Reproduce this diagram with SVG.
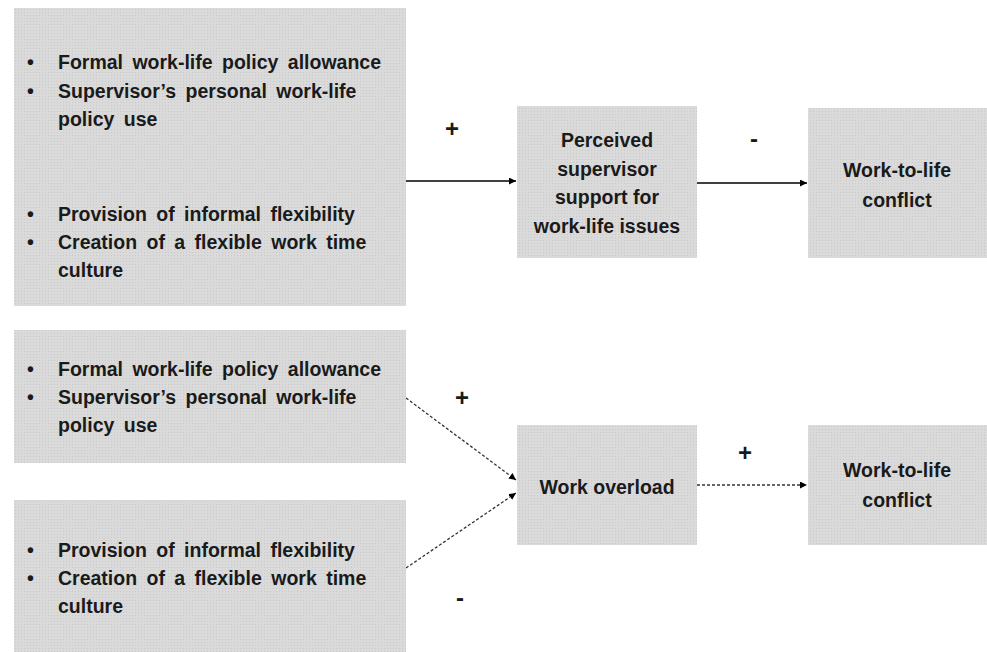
<svg xmlns="http://www.w3.org/2000/svg" width="987" height="652" viewBox="0 0 987 652">
<defs>
<pattern id="dots" width="3" height="3" patternUnits="userSpaceOnUse">
<rect width="3" height="3" fill="#dadada"/>
<rect x="0" y="0" width="1" height="1" fill="#c9c9c9"/>
</pattern>
<marker id="ah" viewBox="0 0 10 10" refX="10" refY="5" markerWidth="7" markerHeight="7" orient="auto" markerUnits="userSpaceOnUse">
<path d="M0,0 L10,5 L0,10 z" fill="#000"/>
</marker>
</defs>
<style>
.box{fill:url(#dots);}
text{font-family:"Liberation Sans",Arial,sans-serif;font-weight:bold;font-size:19.5px;fill:#1a1a1a;}
.b{word-spacing:4px;}
.c{text-anchor:middle;}
.sign{font-size:24px;}
.solid{stroke:#000;stroke-width:1.3;fill:none;marker-end:url(#ah);}
.dash{stroke:#333;stroke-width:1.3;fill:none;stroke-dasharray:3,2;marker-end:url(#ah);}
</style>
<rect width="987" height="652" fill="#fff"/>
<g id="connectors">
<line class="solid" x1="406" y1="181" x2="516" y2="181"/>
<line class="solid" x1="697" y1="183" x2="807" y2="183"/>
<line class="dash" x1="406" y1="398" x2="516" y2="480"/>
<line class="dash" x1="406" y1="568" x2="516" y2="493"/>
<line class="dash" x1="697" y1="485" x2="807" y2="485"/>
<text class="sign c" x="452" y="137">+</text>
<text class="sign c" x="754" y="147">-</text>
<text class="sign c" x="462" y="406">+</text>
<text class="sign c" x="745" y="461">+</text>
<text class="sign c" x="460" y="606">-</text>
</g>
<g id="nodeA">
<rect class="box" x="14" y="8" width="392" height="298"/>
<text x="27" y="69">•</text><text class="b" x="58" y="69">Formal work-life policy allowance</text>
<text x="27" y="98">•</text><text class="b" x="58" y="98">Supervisor’s personal work-life</text>
<text class="b" x="58" y="126">policy use</text>
<text x="27" y="221">•</text><text class="b" x="58" y="221">Provision of informal flexibility</text>
<text x="27" y="249">•</text><text class="b" x="58" y="249">Creation of a flexible work time</text>
<text class="b" x="58" y="277">culture</text>
</g>
<g id="nodeB">
<rect class="box" x="517" y="106" width="180" height="152"/>
<text class="c" x="607" y="147">Perceived</text>
<text class="c" x="607" y="176">supervisor</text>
<text class="c" x="607" y="204">support for</text>
<text class="c" x="607" y="233">work-life issues</text>
</g>
<g id="nodeC">
<rect class="box" x="808" y="108" width="179" height="150"/>
<text class="c" x="897" y="177">Work-to-life</text>
<text class="c" x="897" y="207">conflict</text>
</g>
<g id="nodeD">
<rect class="box" x="14" y="330" width="392" height="133"/>
<text x="27" y="376">•</text><text class="b" x="58" y="376">Formal work-life policy allowance</text>
<text x="27" y="404">•</text><text class="b" x="58" y="404">Supervisor’s personal work-life</text>
<text class="b" x="58" y="432">policy use</text>
</g>
<g id="nodeE">
<rect class="box" x="14" y="500" width="392" height="152"/>
<text x="27" y="557">•</text><text class="b" x="58" y="557">Provision of informal flexibility</text>
<text x="27" y="585">•</text><text class="b" x="58" y="585">Creation of a flexible work time</text>
<text class="b" x="58" y="613">culture</text>
</g>
<g id="nodeF">
<rect class="box" x="517" y="425" width="180" height="120"/>
<text class="c" x="607" y="494">Work overload</text>
</g>
<g id="nodeG">
<rect class="box" x="808" y="425" width="179" height="120"/>
<text class="c" x="897" y="477">Work-to-life</text>
<text class="c" x="897" y="507">conflict</text>
</g>
</svg>
